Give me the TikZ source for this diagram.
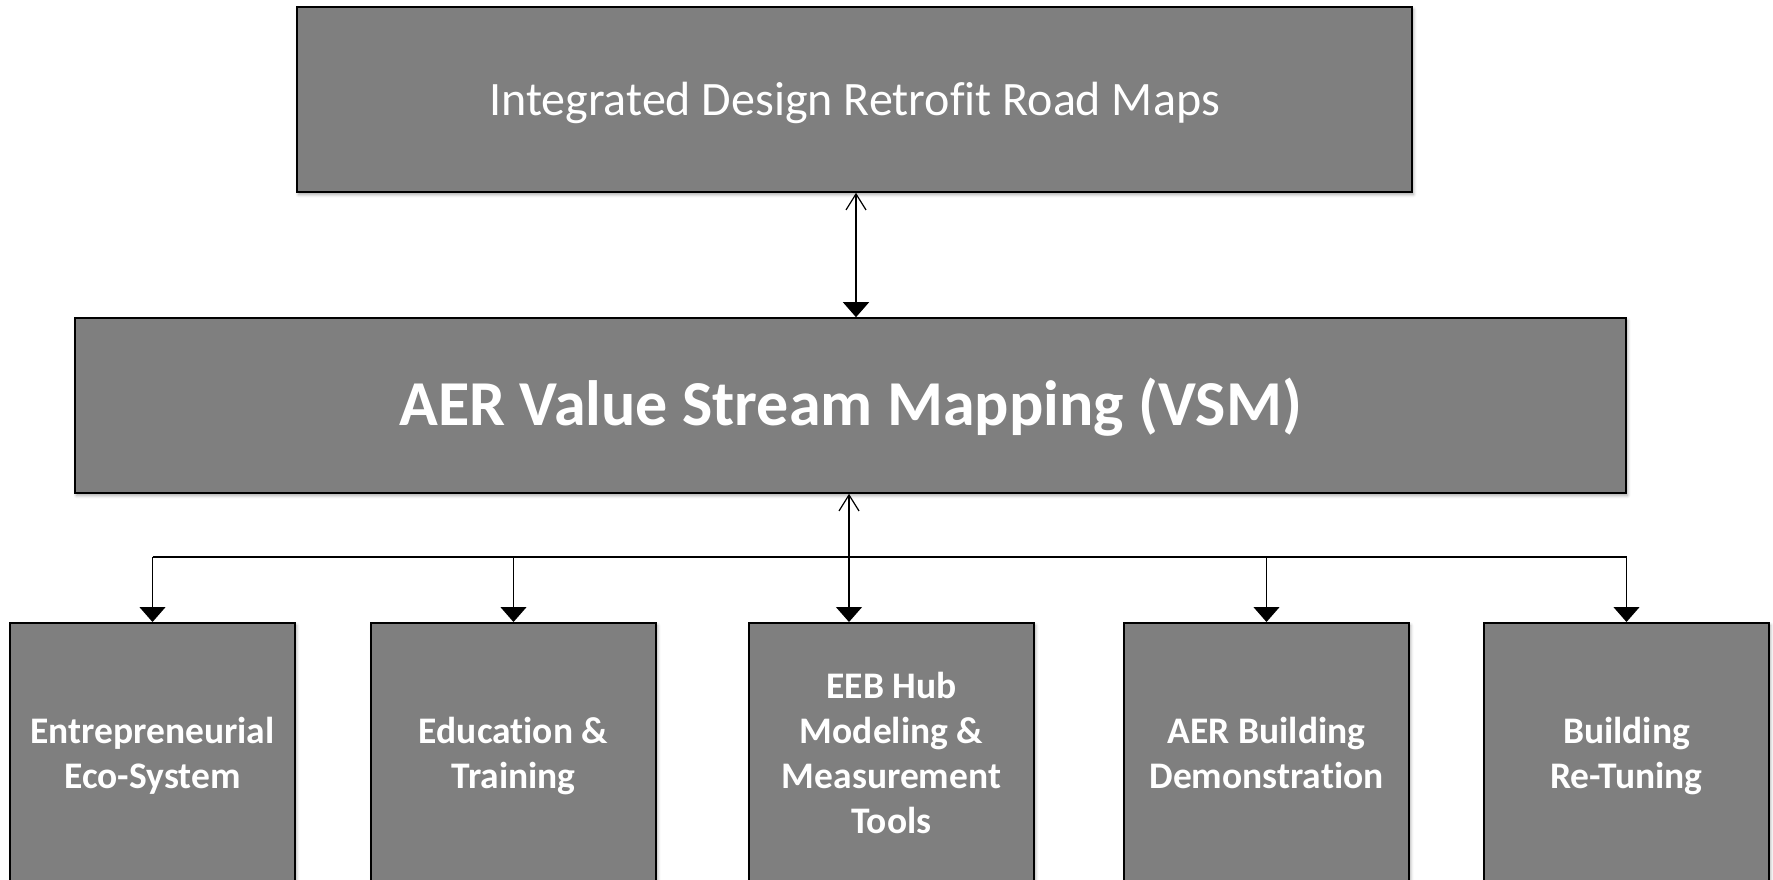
\documentclass[tikz,border=0pt]{standalone}
\usepackage{fontspec}
\setmainfont{Carlito}[Ligatures={NoCommon}]
\usetikzlibrary{arrows.meta,shadows.blur}
\definecolor{boxgray}{RGB}{127,127,127}
% fixed line box so every label sits on the same baseline grid
\newcommand\gridstrut{\rule[-10.1pt]{0pt}{45pt}}
\begin{document}
\begin{tikzpicture}[x=1pt,y=-1pt,
  box/.style={draw=black,line width=1.6pt,fill=boxgray,text=white,
    inner sep=0pt,align=center,
    blur shadow={shadow xshift=1.5pt,shadow yshift=-2.5pt,shadow blur radius=3pt,shadow opacity=35}},
  topbox/.style={box,minimum width=1115pt,minimum height=185pt,
    text height=33pt,text depth=2pt,font=\fontsize{48}{58}\selectfont},
  vsmbox/.style={box,minimum width=1551pt,minimum height=175pt,
    text height=42pt,text depth=3pt,font=\bfseries\fontsize{64}{77}\selectfont},
  areabox/.style={box,minimum width=285pt,minimum height=262pt,anchor=north,
    font=\bfseries\fontsize{37.5}{45}\selectfont},
  link/.style={line width=1.2pt,draw=black},
  solidtip/.tip={Triangle[width=26pt,length=15pt]},
  opentip/.tip={Straight Barb[width=20pt,length=16pt,line width=1.2pt]}
]
\useasboundingbox (0,0) rectangle (1773,879);
\begin{scope}
\clip (0,0) rectangle (1773,879);

% main boxes
\node[topbox] (road) at (854.5,99.5) {Integrated Design Retrofit Road Maps};
\node[vsmbox] (vsm) at (850.5,405.5) {AER Value Stream Mapping (VSM)};

% program areas
\node[areabox] (eco)  at (152.5,622) {\gridstrut Entrepreneurial\\\gridstrut Eco-System};
\node[areabox] (edu)  at (513.5,622) {\gridstrut Education \&\\\gridstrut Training};
\node[areabox] (hub)  at (891.5,622) {\gridstrut EEB Hub\\\gridstrut Modeling \&\\\gridstrut Measurement\\\gridstrut Tools};
\node[areabox] (demo) at (1266.5,622) {\gridstrut AER Building\\\gridstrut Demonstration};
\node[areabox] (tune) at (1626.5,622) {\gridstrut Building\\\gridstrut Re-Tuning};

% road maps <-> VSM
\draw[link,opentip-solidtip] (road.south -| 856,0) -- (vsm.north -| 856,0);

% VSM feeds the distribution bus
\coordinate (busmid) at (849,557);
\coordinate (busl) at (152.5,557);
\coordinate (busr) at (1626.5,557);
\draw[link,line width=2pt,opentip-] (vsm.south -| busmid) -- (busmid);
\draw[link] (busl) -- (busr);
\draw[link,-solidtip] (busl) -- (eco.north);
\draw[link,-solidtip] (busl -| edu.north) -- (edu.north);
\draw[link,-solidtip] (busmid) -- (hub.north -| busmid);
\draw[link,-solidtip] (busl -| demo.north) -- (demo.north);
\draw[link,-solidtip] (busr) -- (tune.north);
\end{scope}
\end{tikzpicture}
\end{document}
